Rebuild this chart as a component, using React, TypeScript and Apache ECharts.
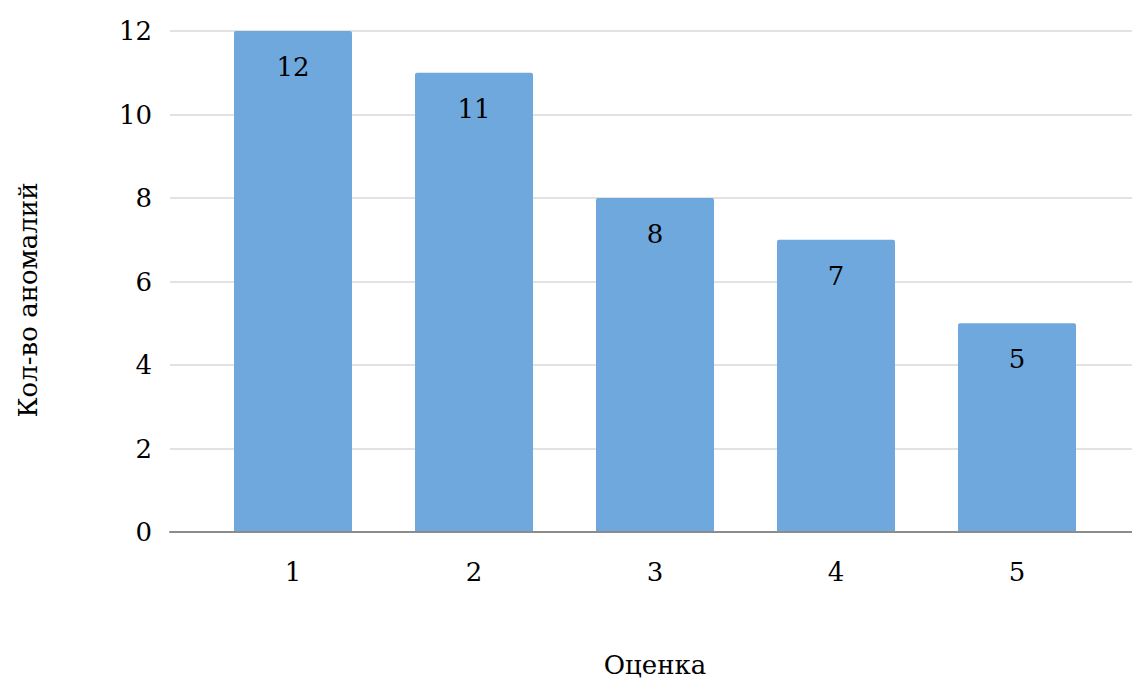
import React, { useEffect, useRef } from "react";
import * as echarts from "echarts";

const categories = ["1", "2", "3", "4", "5"];
const values = [12, 11, 8, 7, 5];
const yTicks = [0, 2, 4, 6, 8, 10, 12];
const xTitle = "Оценка";
const yTitle = "Кол-во аномалий";

const FONT = "DejaVu Serif";
const FS = 26;

export default function App() {
  const ref = useRef<HTMLDivElement>(null);
  useEffect(() => {
    const chart = echarts.init(ref.current!, null, { renderer: "svg" });
    const top = 31;
    const bottom = 148;
    const yMax = yTicks[yTicks.length - 1];
    chart.setOption({
      animation: false,
      backgroundColor: "#ffffff",
      textStyle: { fontFamily: FONT },
      grid: [
        { left: 202.5, right: 24.5, top, bottom, outerBoundsMode: "none", containLabel: false },
        { left: 170, right: 0, top, bottom, outerBoundsMode: "none", containLabel: false },
      ],
      xAxis: [
        {
          type: "category",
          data: categories,
          gridIndex: 0,
          axisLine: { show: false },
          axisTick: { show: false },
          axisLabel: { color: "#000", fontSize: FS, fontFamily: FONT, margin: 27 },
        },
        {
          type: "value",
          gridIndex: 1,
          min: 0,
          max: 1,
          z: 10,
          axisLine: { show: true, lineStyle: { color: "#8c8c8c", width: 2 } },
          axisTick: { show: false },
          axisLabel: { show: false },
          splitLine: { show: false },
        },
      ],
      yAxis: [
        {
          type: "value",
          gridIndex: 0,
          min: 0,
          max: yMax,
          interval: 2,
          axisLine: { show: false },
          axisTick: { show: false },
          axisLabel: { show: false },
          splitLine: { show: false },
        },
        {
          type: "value",
          gridIndex: 1,
          min: 0,
          max: yMax,
          interval: 2,
          axisLine: { show: false },
          axisTick: { show: false },
          axisLabel: { color: "#000", fontSize: FS, fontFamily: FONT, margin: 18 },
          splitLine: { show: true, lineStyle: { color: "#d9d9d9", width: 1.5 } },
        },
      ],
      graphic: [
        {
          type: "text",
          x: 655,
          y: 665,
          style: {
            text: xTitle,
            fill: "#000",
            font: `${FS}px ${FONT}`,
            align: "center",
            verticalAlign: "middle",
          },
        },
        {
          type: "text",
          x: 28,
          y: 300,
          rotation: Math.PI / 2,
          style: {
            text: yTitle,
            fill: "#000",
            font: `${FS}px ${FONT}`,
            align: "center",
            verticalAlign: "middle",
          },
        },
      ],
      series: [
        {
          type: "bar",
          xAxisIndex: 0,
          yAxisIndex: 0,
          data: values,
          barWidth: 118,
          z: 3,
          itemStyle: {
            color: "#6FA8DC",
            borderRadius: [2, 2, 0, 0],
          },
          label: {
            show: true,
            position: "insideTop",
            distance: 23,
            color: "#000",
            fontSize: FS,
            fontFamily: FONT,
          },
        },
      ],
    });
    return () => chart.dispose();
  }, []);
  return (
    <div
      ref={ref}
      style={{ position: "fixed", left: 0, top: 0, width: 1132, height: 680 }}
    />
  );
}
